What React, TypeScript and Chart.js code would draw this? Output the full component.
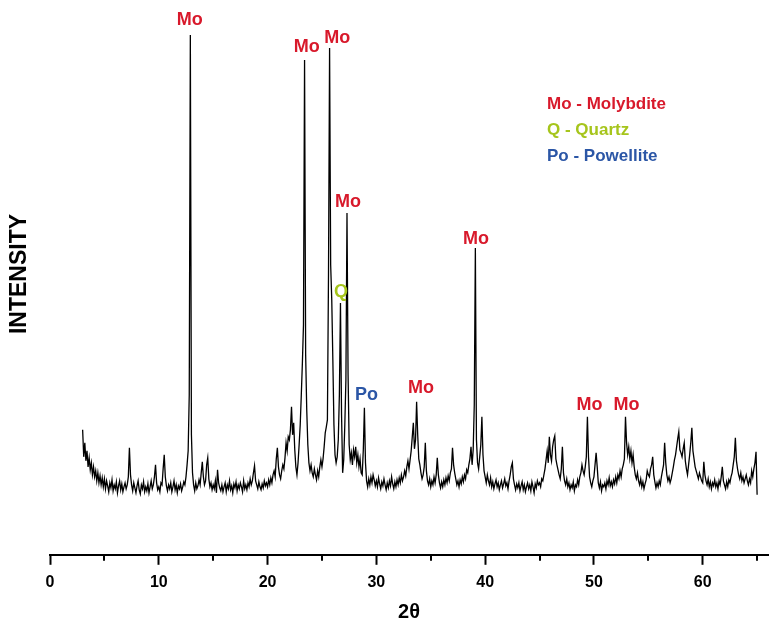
import React, { useEffect, useRef } from "react";
import { Chart, registerables } from "chart.js";

Chart.register(...registerables);

// Scan grid: 2θ from 3.0° to 65.0° in 0.1° steps
const scanStart = 3.0;
const scanStep = 0.1;

// Intensity (arbitrary units), one row per degree (x.0 .. x.9)
const intensity: number[] = [
  125, 98, 112, 94, 104, 88, 97, 85, 92, 80, // 3
  88, 78, 84, 74, 82, 72, 79, 70, 77, 68, // 4
  76, 66, 74, 69, 63, 72, 67, 75, 64, 70, // 5
  66, 73, 62, 69, 74, 65, 71, 63, 68, 72, // 6
  66, 70, 78, 107, 80, 70, 64, 72, 67, 62, // 7
  69, 74, 65, 61, 70, 66, 73, 63, 68, 64, // 8
  71, 62, 68, 74, 66, 70, 78, 90, 72, 65, // 9
  68, 63, 72, 70, 86, 100, 78, 69, 64, 70, // 10
  66, 72, 63, 68, 74, 65, 70, 62, 69, 66, // 11
  71, 64, 68, 73, 70, 78, 90, 104, 160, 520, // 12
  120, 82, 70, 64, 72, 66, 69, 75, 70, 82, // 13
  93, 78, 70, 74, 90, 97, 76, 68, 72, 65, // 14
  70, 66, 74, 62, 85, 72, 67, 64, 70, 63, // 15
  68, 72, 63, 70, 66, 74, 65, 69, 62, 71, // 16
  67, 73, 64, 70, 66, 72, 68, 63, 74, 66, // 17
  70, 65, 72, 68, 76, 70, 74, 82, 89, 74, // 18
  70, 66, 73, 68, 65, 71, 67, 74, 69, 72, // 19
  68, 75, 70, 77, 72, 80, 84, 78, 96, 107, // 20
  88, 80, 76, 84, 90, 86, 97, 112, 104, 118, // 21
  115, 125, 148, 120, 132, 105, 88, 80, 92, 110, // 22
  130, 160, 192, 230, 495, 200, 145, 110, 92, 84, // 23
  90, 82, 78, 86, 80, 75, 84, 78, 88, 95, // 24
  88, 96, 108, 122, 128, 135, 280, 507, 290, 255, // 25
  195, 130, 100, 92, 98, 115, 160, 252, 140, 82, // 26
  95, 130, 175, 342, 180, 110, 95, 102, 90, 105, // 27
  98, 108, 92, 100, 88, 96, 82, 80, 105, 147, // 28
  92, 74, 68, 76, 70, 78, 72, 80, 75, 69, // 29
  74, 68, 77, 71, 66, 73, 69, 76, 70, 65, // 30
  72, 67, 74, 69, 78, 71, 66, 73, 68, 75, // 31
  70, 77, 72, 80, 74, 78, 84, 79, 88, 94, // 32
  86, 95, 104, 118, 132, 106, 115, 153, 120, 96, // 33
  90, 82, 76, 80, 88, 112, 84, 74, 70, 76, // 34
  68, 74, 70, 78, 72, 80, 97, 80, 72, 67, // 35
  73, 68, 75, 70, 77, 72, 79, 74, 82, 86, // 36
  107, 90, 82, 76, 70, 74, 68, 75, 71, 78, // 37
  73, 80, 76, 85, 82, 90, 96, 108, 90, 105, // 38
  150, 307, 115, 92, 86, 98, 110, 138, 100, 84, // 39
  78, 72, 80, 74, 70, 77, 68, 73, 66, 71, // 40
  75, 68, 72, 65, 70, 74, 67, 71, 76, 69, // 41
  72, 66, 74, 80, 88, 92, 76, 70, 65, 71, // 42
  67, 72, 64, 69, 73, 65, 70, 63, 68, 72, // 43
  66, 70, 64, 73, 68, 62, 71, 67, 74, 70, // 44
  72, 68, 76, 74, 80, 86, 95, 104, 92, 118, // 45
  100, 94, 108, 115, 119, 96, 90, 85, 80, 76, // 46
  86, 108, 82, 74, 70, 76, 68, 72, 65, 70, // 47
  67, 73, 64, 70, 68, 75, 70, 78, 82, 90, // 48
  84, 80, 88, 98, 138, 98, 78, 72, 68, 74, // 49
  78, 90, 102, 88, 72, 67, 73, 64, 70, 68, // 50
  72, 66, 74, 70, 77, 69, 73, 68, 75, 71, // 51
  78, 72, 80, 76, 84, 78, 86, 90, 96, 138, // 52
  112, 100, 108, 96, 104, 92, 100, 88, 80, 76, // 53
  82, 74, 70, 76, 68, 73, 66, 71, 75, 84, // 54
  80, 78, 86, 90, 98, 80, 73, 67, 72, 68, // 55
  74, 70, 78, 84, 90, 112, 92, 80, 74, 78, // 56
  72, 76, 82, 88, 95, 100, 108, 116, 123, 105, // 57
  102, 98, 106, 112, 94, 86, 80, 90, 100, 112, // 58
  127, 104, 96, 88, 84, 80, 76, 82, 78, 74, // 59
  72, 93, 80, 74, 70, 76, 68, 73, 66, 72, // 60
  69, 75, 68, 72, 66, 74, 70, 78, 88, 74, // 61
  70, 66, 73, 68, 75, 72, 78, 82, 90, 98, // 62
  117, 94, 86, 80, 76, 82, 74, 78, 72, 76, // 63
  80, 74, 70, 76, 72, 84, 78, 86, 92, 103, // 64
  60, // 65.0
];

const xTickValues = [0, 10, 20, 30, 40, 50, 60];
const xMinorTicks = [5, 15, 25, 35, 45, 55, 65];

// Peak labels: phase, 2θ position, intensity level of label
const peakLabelText = ["Mo", "Mo", "Mo", "Mo", "Q", "Po", "Mo", "Mo", "Mo", "Mo"];
const peakLabelX = [12.85, 23.6, 26.4, 27.4, 26.75, 29.1, 34.1, 39.15, 49.6, 53.0];
const peakLabelY = [535, 508, 517, 353, 263, 160, 167, 316, 150, 150];

const legendText = ["Mo - Molybdite", "Q - Quartz", "Po - Powellite"];

const phaseColor: Record<string, string> = {
  Mo: "#d8192b",
  Q: "#a6c51c",
  Po: "#2b56a6",
};

export default function App() {
  const ref = useRef<HTMLCanvasElement | null>(null);

  useEffect(() => {
    const canvas = ref.current;
    if (!canvas) return;
    const points = intensity.map((v, i) => ({
      x: Math.round((scanStart + i * scanStep) * 10) / 10,
      y: v,
    }));

    const decor = {
      id: "decor",
      afterDraw(chart: any) {
        const ctx = chart.ctx as CanvasRenderingContext2D;
        const xs = chart.scales.x;
        const ys = chart.scales.y;
        const area = chart.chartArea;
        ctx.save();
        // minor ticks
        ctx.strokeStyle = "#000";
        ctx.lineWidth = 2;
        xMinorTicks.forEach((t) => {
          const px = Math.round(xs.getPixelForValue(t));
          ctx.beginPath();
          ctx.moveTo(px, area.bottom);
          ctx.lineTo(px, area.bottom + 6);
          ctx.stroke();
        });
        // peak labels
        ctx.font = "bold 18px 'Liberation Sans', Arial, sans-serif";
        ctx.textAlign = "center";
        ctx.textBaseline = "middle";
        peakLabelText.forEach((t, i) => {
          ctx.fillStyle = phaseColor[t];
          ctx.fillText(t, xs.getPixelForValue(peakLabelX[i]), ys.getPixelForValue(peakLabelY[i]));
        });
        // legend
        ctx.font = "bold 17px 'Liberation Sans', Arial, sans-serif";
        ctx.textAlign = "left";
        const keys = ["Mo", "Q", "Po"];
        legendText.forEach((t, i) => {
          ctx.fillStyle = phaseColor[keys[i]];
          ctx.fillText(t, 547, 104 + i * 26);
        });
        // y title
        ctx.translate(20, 274);
        ctx.rotate(-Math.PI / 2);
        ctx.textAlign = "center";
        ctx.fillStyle = "#000";
        ctx.font = "bold 23px 'Liberation Sans', Arial, sans-serif";
        ctx.fillText("INTENSITY", 0, 0);
        ctx.restore();
      },
    };

    const chart = new Chart(canvas, {
      type: "line",
      data: {
        datasets: [
          {
            data: points,
            borderColor: "#000",
            borderWidth: 1.3,
            pointRadius: 0,
            tension: 0,
            fill: false,
          },
        ],
      },
      options: {
        animation: false,
        responsive: false,
        layout: { padding: { left: 50, right: 3, top: 0, bottom: 0 } },
        plugins: { legend: { display: false }, tooltip: { enabled: false } },
        scales: {
          x: {
            type: "linear",
            min: 0,
            max: 66,
            afterBuildTicks: (axis: any) => {
              axis.ticks = xTickValues.map((v) => ({ value: v }));
            },
            ticks: {
              color: "#000",
              font: { family: "'Liberation Sans', Arial, sans-serif", size: 16, weight: "bold" },
              padding: 8,
              maxRotation: 0,
              autoSkip: false,
            },
            grid: {
              drawOnChartArea: false,
              drawTicks: true,
              tickLength: 10,
              tickWidth: 2,
              tickColor: "#000",
              color: "#000",
            },
            border: { color: "#000", width: 2 },
            title: {
              display: true,
              text: "2θ",
              color: "#000",
              font: { family: "'Liberation Sans', Arial, sans-serif", size: 20, weight: "bold" },
              padding: { top: 0, bottom: 0 },
            },
          },
          y: {
            display: false,
            min: 0,
            max: 555,
          },
        },
      },
      plugins: [decor],
    });
    return () => chart.destroy();
  }, []);

  return (
    <div style={{ position: "absolute", left: 0, top: 0, width: 771, height: 624, background: "#fff" }}>
      <canvas ref={ref} width={771} height={624} style={{ display: "block" }} />
    </div>
  );
}
